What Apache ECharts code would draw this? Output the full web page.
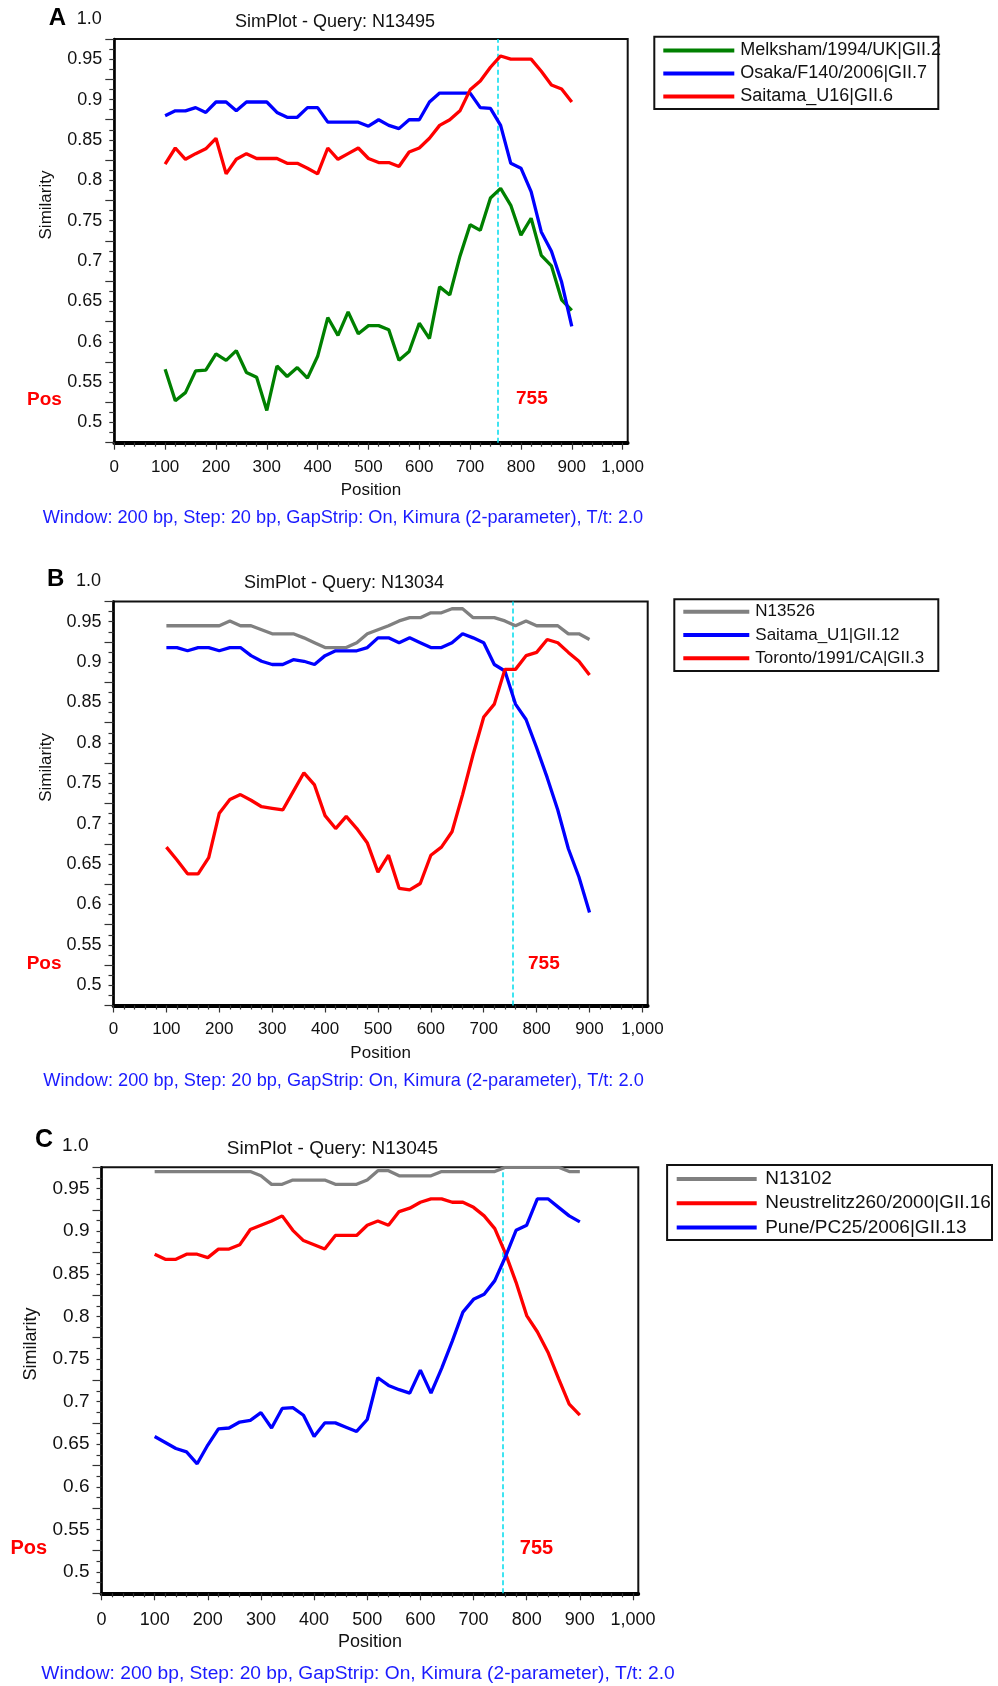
<!DOCTYPE html>
<html><head><meta charset="utf-8">
<script src="https://cdn.jsdelivr.net/npm/echarts@6/dist/echarts.min.js"></script>
<style>html,body{margin:0;padding:0;background:#fff}#c{width:998px;height:1686px}</style>
</head><body><div id="c"></div>
<script>
// ---------- DATA ----------
const positions = [100,120,140,160,180,200,220,240,260,280,300,320,340,360,380,400,420,440,460,480,500,520,540,560,580,600,620,640,660,680,700,720,740,760,780,800,820,840,860,880,900];
const xTickLabels = [0,100,200,300,400,500,600,700,800,900,1000];
const yTickLabels = [0.5,0.55,0.6,0.65,0.7,0.75,0.8,0.85,0.9,0.95];
const topLabel = '1.0';
const breakpoint = 755;
const footerText = 'Window: 200 bp, Step: 20 bp, GapStrip: On, Kimura (2-parameter), T/t: 2.0';

// Panel A
const titleA = 'SimPlot - Query: N13495';
const namesA = ['Melksham/1994/UK|GII.2', 'Osaka/F140/2006|GII.7', 'Saitama_U16|GII.6'];
const melksham = [0.566,0.527,0.537,0.564,0.565,0.585,0.577,0.589,0.562,0.556,0.515,0.570,0.557,0.568,0.555,0.582,0.630,0.608,0.637,0.610,0.620,0.620,0.615,0.577,0.588,0.623,0.604,0.668,0.658,0.706,0.745,0.738,0.778,0.790,0.769,0.732,0.753,0.707,0.694,0.652,0.639];
const osakaF140 = [0.880,0.886,0.886,0.890,0.884,0.897,0.897,0.886,0.897,0.897,0.897,0.884,0.878,0.878,0.890,0.890,0.872,0.872,0.872,0.872,0.867,0.875,0.868,0.864,0.875,0.875,0.897,0.908,0.908,0.908,0.908,0.890,0.889,0.868,0.821,0.815,0.786,0.736,0.712,0.674,0.619];
const saitamaU16 = [0.820,0.840,0.826,0.833,0.839,0.852,0.808,0.826,0.833,0.827,0.827,0.827,0.821,0.821,0.815,0.808,0.840,0.826,0.833,0.840,0.827,0.822,0.822,0.817,0.835,0.840,0.852,0.868,0.875,0.886,0.912,0.923,0.940,0.954,0.950,0.950,0.950,0.935,0.918,0.913,0.897];

// Panel B
const titleB = 'SimPlot - Query: N13034';
const namesB = ['N13526', 'Saitama_U1|GII.12', 'Toronto/1991/CA|GII.3'];
const n13526 = [0.945,0.945,0.945,0.945,0.945,0.945,0.951,0.945,0.945,0.940,0.935,0.935,0.935,0.930,0.924,0.918,0.918,0.918,0.924,0.935,0.940,0.945,0.951,0.955,0.955,0.961,0.961,0.966,0.966,0.955,0.955,0.955,0.951,0.945,0.951,0.945,0.945,0.945,0.935,0.935,0.928];
const saitamaU1 = [0.918,0.918,0.914,0.918,0.918,0.914,0.918,0.918,0.908,0.901,0.897,0.897,0.903,0.901,0.897,0.908,0.914,0.914,0.914,0.918,0.930,0.930,0.924,0.930,0.924,0.918,0.918,0.924,0.935,0.930,0.924,0.897,0.889,0.848,0.829,0.794,0.757,0.717,0.669,0.634,0.590];
const toronto = [0.671,0.655,0.638,0.638,0.658,0.713,0.730,0.736,0.729,0.721,0.719,0.717,0.740,0.763,0.748,0.710,0.694,0.709,0.694,0.676,0.640,0.661,0.620,0.618,0.626,0.661,0.671,0.690,0.736,0.786,0.832,0.848,0.891,0.891,0.908,0.912,0.928,0.924,0.912,0.901,0.884];

// Panel C
const titleC = 'SimPlot - Query: N13045';
const namesC = ['N13102', 'Neustrelitz260/2000|GII.16', 'Pune/PC25/2006|GII.13'];
const n13102 = [0.970,0.970,0.970,0.970,0.970,0.970,0.970,0.970,0.970,0.970,0.965,0.955,0.955,0.960,0.960,0.960,0.960,0.955,0.955,0.955,0.960,0.971,0.971,0.965,0.965,0.965,0.965,0.970,0.970,0.970,0.970,0.970,0.970,0.975,0.975,0.975,0.975,0.975,0.975,0.970,0.970];
const neustrelitz = [0.873,0.867,0.867,0.873,0.873,0.869,0.879,0.879,0.884,0.902,0.907,0.912,0.918,0.901,0.889,0.884,0.879,0.895,0.895,0.895,0.907,0.912,0.907,0.923,0.927,0.934,0.938,0.938,0.934,0.934,0.928,0.918,0.903,0.874,0.840,0.801,0.782,0.758,0.727,0.697,0.684];
const punePC25 = [0.659,0.652,0.645,0.641,0.627,0.649,0.668,0.669,0.676,0.678,0.687,0.669,0.692,0.693,0.684,0.659,0.675,0.675,0.670,0.665,0.679,0.728,0.719,0.714,0.710,0.737,0.710,0.739,0.771,0.805,0.820,0.826,0.842,0.870,0.901,0.907,0.938,0.938,0.928,0.918,0.911];

// ---------- LAYOUT / STYLE ----------
const FF = '"Liberation Sans", Arial, Helvetica, sans-serif';
const COL = { green:'#008000', blue:'#0000ff', red:'#ff0000', gray:'#808080' };

const panels = [
  { letter:'A', title:titleA, names:namesA, series:[melksham, osakaF140, saitamaU16], colors:[COL.green, COL.blue, COL.red],
    grid:{left:114.3, top:39, width:513.4, height:403.7}, fs:17, yfs:18,
    letterPos:[57.5,18.5], topLblPos:[101.7,18.8], titlePos:[335,21.7], simPos:[46.8,205],
    posPos:[27,400], bpPos:[516,399], footPos:[42.7,518], nameGap:39.5, xMargin:16,
    legend:{left:663.3, top:39, w:71, fs:18, lh:15, pad:[8,0,0,1]}, box:[654.3,36.7,284,72.3] },
  { letter:'B', title:titleB, names:namesB, series:[n13526, saitamaU1, toronto], colors:[COL.gray, COL.blue, COL.red],
    grid:{left:113.5, top:601.5, width:534.2, height:404}, fs:17, yfs:18,
    letterPos:[55.6,579.3], topLblPos:[100.9,581.3], titlePos:[344,583.5], simPos:[46,767.4],
    posPos:[26.7,963.4], bpPos:[528,963.4], footPos:[43.3,1081.4], nameGap:39, xMargin:15.5,
    legend:{left:683.3, top:600.1, w:66, fs:17, lh:13.3, pad:[10,0,0,1]}, box:[674.3,599.3,264,71.7] },
  { letter:'C', title:titleC, names:namesC, series:[n13102, neustrelitz, punePC25], colors:[COL.gray, COL.red, COL.blue],
    grid:{left:101.5, top:1167.3, width:536.8, height:426}, fs:18, yfs:19,
    letterPos:[44,1139.8], topLblPos:[88.5,1146], titlePos:[332.4,1148.8], simPos:[31.3,1344],
    posPos:[10.5,1548.4], bpPos:[519.8,1548], footPos:[41.3,1673.5], nameGap:39.7, xMargin:17.5,
    legend:{left:676.7, top:1166.8, w:80, fs:19, lh:13.7, pad:[10.6,0,0,3.5]}, box:[667.1,1165,324.9,74.9] }
];

const grids = [], xAxes = [], yAxes = [], series = [], legends = [], graphics = [];
const tickStyle = {color:'#333', width:1.2};

panels.forEach((p, i) => {
  grids.push(Object.assign({show:true, borderColor:'#111', borderWidth:2, backgroundColor:'#fff'}, p.grid));
  xAxes.push({
    gridIndex:i, type:'value', min:0, max:1010, interval:100,
    name:'Position', nameLocation:'middle', nameGap:p.nameGap,
    nameTextStyle:{fontSize:p.fs, color:'#111', fontFamily:FF},
    axisLine:{show:true, onZero:false, lineStyle:{color:'#000', width:3.8}},
    axisTick:{show:true, length:7, lineStyle:tickStyle, customValues:xTickLabels},
    minorTick:{show:true, splitNumber:5, length:4, lineStyle:tickStyle},
    axisLabel:{customValues:xTickLabels, margin:p.xMargin, fontSize:p.fs, color:'#111', fontFamily:FF,
      formatter: v => (Math.round(v) % 100 === 0 ? Math.round(v).toLocaleString('en-US') : '')},
    splitLine:{show:false}, minorSplitLine:{show:false}
  });
  yAxes.push({
    gridIndex:i, type:'value', min:0.475, max:0.975, interval:0.05,
    axisLine:{show:true, onZero:false, lineStyle:{color:'#000', width:2.5}},
    axisTick:{show:true, length:9, lineStyle:tickStyle},
    minorTick:{show:true, splitNumber:4, length:5, lineStyle:tickStyle},
    axisLabel:{customValues:yTickLabels, margin:12, fontSize:p.yfs, color:'#111', fontFamily:FF,
      formatter: v => String(+(+v).toFixed(3))},
    splitLine:{show:false}, minorSplitLine:{show:false}
  });
  p.series.forEach((arr, k) => {
    const s = {
      name:p.names[k], type:'line', xAxisIndex:i, yAxisIndex:i,
      data: positions.map((x, j) => [x, arr[j]]),
      showSymbol:false, symbol:'none', animation:false,
      lineStyle:{width:3.3, color:p.colors[k]}, itemStyle:{color:p.colors[k]}, z:3
    };
    if (k === 0) {
      s.markLine = { silent:true, symbol:['none','none'], label:{show:false},
        lineStyle:{color:'#00dced', type:[5,3], width:1.5}, data:[{xAxis:breakpoint}], z:2 };
    }
    series.push(s);
  });
  legends.push({
    data:p.names, orient:'vertical', left:p.legend.left, top:p.legend.top, padding:0,
    itemWidth:p.legend.w, itemHeight:4, itemGap:0, icon:'rect', selectedMode:false,
    textStyle:{fontSize:p.legend.fs, fontFamily:FF, color:'#111', lineHeight:p.legend.lh, padding:p.legend.pad}
  });
  const t = (text, x, y, font, fill, align, extra) => Object.assign({
    type:'text', x:x, y:y, z:50,
    style:{text:text, font:font, fill:fill, align:align, verticalAlign:'middle'}
  }, extra || {});
  graphics.push(t(p.letter, p.letterPos[0], p.letterPos[1], 'bold ' + (p.fs === 18 ? 25 : 24) + 'px ' + FF, '#000', 'center'));
  graphics.push(t(topLabel, p.topLblPos[0], p.topLblPos[1], p.yfs + 'px ' + FF, '#111', 'right'));
  graphics.push(t(p.title, p.titlePos[0], p.titlePos[1], (p.fs + 1) + 'px ' + FF, '#111', 'center'));
  graphics.push(t('Similarity', p.simPos[0], p.simPos[1], p.fs + 'px ' + FF, '#111', 'center', {rotation:Math.PI / 2}));
  graphics.push(t('Pos', p.posPos[0], p.posPos[1], 'bold ' + (p.fs + 2) + 'px ' + FF, '#ff0000', 'left'));
  graphics.push(t(String(breakpoint), p.bpPos[0], p.bpPos[1], 'bold ' + (p.fs + 2) + 'px ' + FF, '#ff0000', 'left'));
  graphics.push(t(footerText, p.footPos[0], p.footPos[1], (p.fs + 1.2) + 'px ' + FF, '#1a1aff', 'left'));
  graphics.push({type:'rect', z:40, shape:{x:p.box[0], y:p.box[1], width:p.box[2], height:p.box[3]},
    style:{fill:'none', stroke:'#111', lineWidth:2}});
});

const chart = echarts.init(document.getElementById('c'), null, {renderer:'canvas'});
chart.setOption({
  animation:false, backgroundColor:'#fff',
  grid:grids, xAxis:xAxes, yAxis:yAxes, series:series, legend:legends, graphic:graphics
});
</script></body></html>
